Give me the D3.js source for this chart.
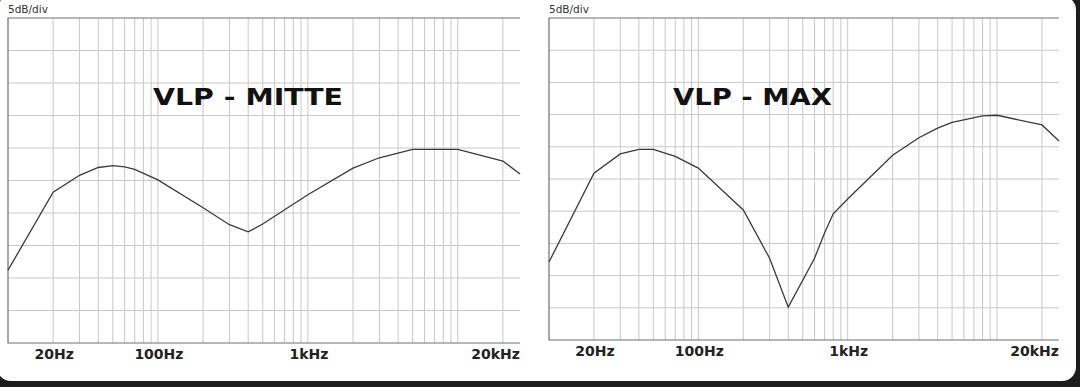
<!DOCTYPE html>
<html>
<head>
<meta charset="utf-8">
<script src="https://cdn.jsdelivr.net/npm/d3@7"></script>
<style>
  body { margin: 0; background: #1d1d1d; }
  svg { display: block; }
</style>
</head>
<body>
<div id="chart"></div>
<script>
// frequency response data (dB, 5 dB per grid division)
var freqsMitte = [10, 20, 30, 40, 50, 60, 70, 100, 200, 300, 400, 500, 700, 1000, 2000, 3000, 5000, 10000, 20000, 26000];
var dbMitte    = [61.2, 73.2, 75.8, 77.0, 77.3, 77.1, 76.7, 75.1, 70.8, 68.2, 67.1, 68.3, 70.5, 72.8, 76.9, 78.5, 79.8, 79.8, 78.0, 76.0];

var freqsMax = [10, 20, 30, 40, 50, 70, 100, 200, 300, 400, 600, 700, 800, 1000, 2000, 3000, 4000, 5000, 8000, 10000, 20000, 26000];
var dbMax    = [62.1, 75.9, 78.9, 79.6, 79.6, 78.5, 76.7, 70.2, 62.7, 55.1, 62.7, 66.6, 69.6, 71.9, 78.7, 81.4, 82.9, 83.8, 84.8, 84.9, 83.4, 80.9];

var tickFreqs  = [20, 100, 1000, 20000];
var tickLabels = ["20Hz", "100Hz", "1kHz", "20kHz"];
var titles     = ["VLP - MITTE", "VLP - MAX"];
var yLabel     = "5dB/div";
var dbDomain   = [50, 100];
var fDomain    = [10, 26000];

var svg = d3.select("#chart").append("svg")
    .attr("width", 1080)
    .attr("height", 387);

// white card
svg.append("rect")
    .attr("x", -3).attr("y", -4)
    .attr("width", 1079).attr("height", 385)
    .attr("rx", 14)
    .attr("fill", "#ffffff");

function drawPanel(p) {
    var x = d3.scaleLog().domain(fDomain).range([p.left, p.right]);
    var y = d3.scaleLinear().domain(dbDomain).range([p.bottom, p.top]);
    var g = svg.append("g");

    // vertical log grid: 1..9 per decade
    var gridF = [];
    for (var dec = 10; dec < fDomain[1]; dec *= 10) {
        for (var m = 1; m < 10; m++) {
            var f = dec * m;
            if (f > fDomain[0] && f < fDomain[1]) gridF.push(f);
        }
    }
    g.append("g").selectAll("line")
        .data(gridF)
        .enter().append("line")
        .attr("x1", function(d) { return x(d); })
        .attr("x2", function(d) { return x(d); })
        .attr("y1", p.top).attr("y2", p.bottom)
        .attr("stroke", "#c8c8c8")
        .attr("stroke-width", 1);

    // horizontal grid every 5 dB
    g.append("g").selectAll("line")
        .data(d3.range(dbDomain[0] + 5, dbDomain[1], 5))
        .enter().append("line")
        .attr("x1", p.left).attr("x2", p.right)
        .attr("y1", function(d) { return y(d); })
        .attr("y2", function(d) { return y(d); })
        .attr("stroke", "#c8c8c8")
        .attr("stroke-width", 1);

    // frame: top, left, bottom
    g.append("path")
        .attr("d", "M" + p.right + "," + y(dbDomain[1]) + "H" + p.left + "V" + y(dbDomain[0]) + "H" + p.right)
        .attr("fill", "none")
        .attr("stroke", "#707070")
        .attr("stroke-width", 1.2);

    // curve
    var line = d3.line()
        .x(function(d) { return x(d[0]); })
        .y(function(d) { return y(d[1]); });
    g.append("path")
        .datum(d3.zip(p.freqs, p.db))
        .attr("d", line)
        .attr("fill", "none")
        .attr("stroke", "#3a3a3a")
        .attr("stroke-width", 1.3);

    g.append("text")
        .attr("x", p.left)
        .attr("y", p.top - 5)
        .style("font-family", "DejaVu Sans, sans-serif")
        .style("font-size", "10.5px")
        .attr("fill", "#333")
        .text(yLabel);

    g.append("g").selectAll("text")
        .data(tickFreqs)
        .enter().append("text")
        .attr("x", function(d, i) { return i == tickFreqs.length - 1 ? p.right : x(d) + 1; })
        .attr("y", p.bottom + 16)
        .attr("text-anchor", function(d, i) { return i == tickFreqs.length - 1 ? "end" : "middle"; })
        .style("font-family", "DejaVu Sans, sans-serif")
        .style("font-weight", "bold")
        .style("font-size", "14px")
        .attr("fill", "#222")
        .text(function(d, i) { return tickLabels[i]; });

    g.append("text")
        .attr("x", p.titleX)
        .attr("y", 105)
        .attr("textLength", p.titleW)
        .attr("lengthAdjust", "spacingAndGlyphs")
        .style("font-family", "DejaVu Sans, sans-serif")
        .style("font-weight", "bold")
        .style("font-size", "23px")
        .attr("fill", "#111")
        .text(p.title);
}

drawPanel({left: 8, right: 520, top: 18, bottom: 343, freqs: freqsMitte, db: dbMitte,
           title: titles[0], titleX: 153, titleW: 190});
drawPanel({left: 549, right: 1059, top: 18, bottom: 340, freqs: freqsMax, db: dbMax,
           title: titles[1], titleX: 673, titleW: 159});
</script>
</body>
</html>
